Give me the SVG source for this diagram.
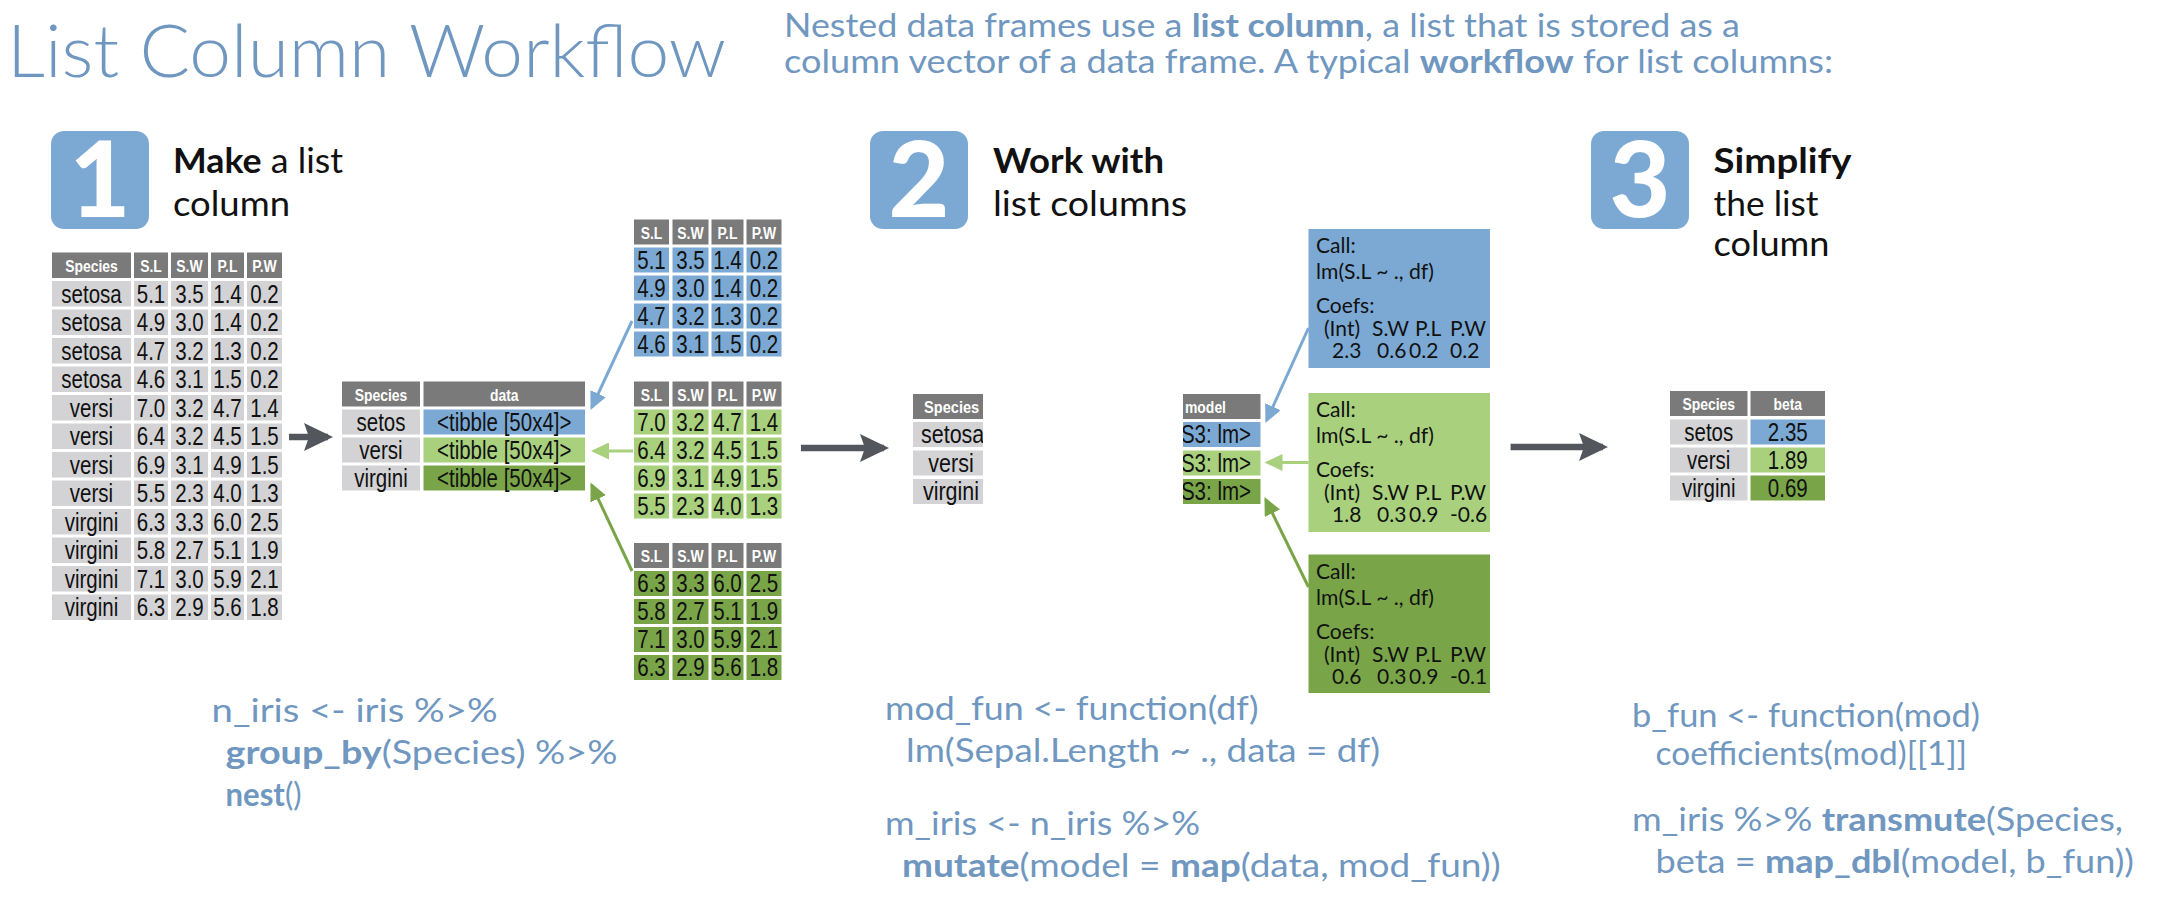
<svg xmlns="http://www.w3.org/2000/svg" xmlns:xlink="http://www.w3.org/1999/xlink" width="2166" height="898" viewBox="0 0 2166 898">
<style>
.hd{fill:#7A7A7A}.cg{fill:#D3D3D5}.cb{fill:#7BA9D3}.cl{fill:#A8D07D}.cd{fill:#79A548}
.th{font-family:"Liberation Sans",Arial,sans-serif;font-weight:bold;font-size:17px;fill:#fff;text-anchor:middle}
.td{font-family:"Liberation Sans",Arial,sans-serif;font-size:25px;fill:#111;text-anchor:middle}
.title{font-family:Lato,"Open Sans","Liberation Sans",sans-serif;font-weight:300;font-size:73px;fill:#7097C0}
.sub{font-family:Lato,"Open Sans","Liberation Sans",sans-serif;font-size:32px;fill:#7097C0}
.code{font-family:Lato,"Open Sans","Liberation Sans",sans-serif;font-size:32px;fill:#7097C0}
.step{font-family:Lato,"Open Sans","Liberation Sans",sans-serif;font-size:34px;fill:#111}
.num{font-family:Lato,"Open Sans","Liberation Sans",sans-serif;font-weight:900;font-size:105px;fill:#fff;text-anchor:middle}
.mt{font-family:Lato,"Open Sans","Liberation Sans",sans-serif;font-size:21px;fill:#111}
.b{font-weight:bold}
.box{fill:#7BA9D3}
.ln{fill:none;stroke-width:3}
.big{fill:none;stroke:#53575D;stroke-width:6.5}
</style>
<defs>
<g id="row5"><rect x="52" width="79" height="25.5"/><rect x="134" width="34" height="25.5"/><rect x="171" width="37" height="25.5"/><rect x="211" width="33" height="25.5"/><rect x="247" width="35" height="25.5"/></g>
<g id="row4"><rect x="634" width="35" height="25"/><rect x="672.5" width="36" height="25"/><rect x="711.5" width="32" height="25"/><rect x="746.5" width="35" height="25"/></g>
<marker id="mb" markerUnits="userSpaceOnUse" markerWidth="18" markerHeight="17" refX="15" refY="8.5" orient="auto" viewBox="0 0 18 17"><path d="M0,0 L18,8.5 L0,17 z" fill="#7BA9D3"/></marker>
<marker id="ml" markerUnits="userSpaceOnUse" markerWidth="18" markerHeight="17" refX="15" refY="8.5" orient="auto" viewBox="0 0 18 17"><path d="M0,0 L18,8.5 L0,17 z" fill="#A8D07D"/></marker>
<marker id="md" markerUnits="userSpaceOnUse" markerWidth="18" markerHeight="17" refX="15" refY="8.5" orient="auto" viewBox="0 0 18 17"><path d="M0,0 L18,8.5 L0,17 z" fill="#79A548"/></marker>
<marker id="mk" markerUnits="userSpaceOnUse" markerWidth="29" markerHeight="28" refX="24" refY="14" orient="auto" viewBox="0 0 29 28"><path d="M0,0 L29,14 L0,28 L5,14 z" fill="#53575D"/></marker>
<clipPath id="clipSp"><rect x="913" y="390" width="70" height="120"/></clipPath>
<clipPath id="clipMd"><rect x="1183" y="390" width="77.5" height="120"/></clipPath>
</defs>
<rect width="2166" height="898" fill="#fff"/>

<g id="title"><text x="7" y="77" class="title" textLength="719" lengthAdjust="spacingAndGlyphs">List Column Workflow</text></g>
<g id="subtitle">
<text x="784" y="37" class="sub" textLength="956" lengthAdjust="spacingAndGlyphs">Nested data frames use a <tspan class="b">list column</tspan>, a list that is stored as a</text>
<text x="784" y="73" class="sub" textLength="1049" lengthAdjust="spacingAndGlyphs">column vector of a data frame. A typical <tspan class="b">workflow</tspan> for list columns:</text>
</g>

<g id="step1">
<rect x="51" y="131" width="98" height="98" rx="13" class="box"/>
<text x="100" y="217" class="num">1</text>
<text x="173" y="173" class="step" textLength="170" lengthAdjust="spacingAndGlyphs"><tspan class="b">Make</tspan> a list</text>
<text x="173" y="216" class="step" textLength="117" lengthAdjust="spacingAndGlyphs">column</text>
</g>
<g id="step2">
<rect x="870" y="131" width="98" height="98" rx="13" class="box"/>
<text x="919" y="217" class="num">2</text>
<text x="993" y="173" class="step b" textLength="171" lengthAdjust="spacingAndGlyphs">Work with</text>
<text x="993" y="216" class="step" textLength="194" lengthAdjust="spacingAndGlyphs">list columns</text>
</g>
<g id="step3">
<rect x="1591" y="131" width="98" height="98" rx="13" class="box"/>
<text x="1640" y="217" class="num">3</text>
<text x="1713.5" y="173" class="step b" textLength="138" lengthAdjust="spacingAndGlyphs">Simplify</text>
<text x="1713.5" y="216" class="step" textLength="105" lengthAdjust="spacingAndGlyphs">the list</text>
<text x="1713.5" y="256" class="step" textLength="116" lengthAdjust="spacingAndGlyphs">column</text>
</g>

<g id="iris-table">
<use href="#row5" y="252.5" class="hd"/>
<use href="#row5" y="281" class="cg"/><use href="#row5" y="309.5" class="cg"/><use href="#row5" y="338" class="cg"/><use href="#row5" y="366.5" class="cg"/>
<use href="#row5" y="395" class="cg"/><use href="#row5" y="423.5" class="cg"/><use href="#row5" y="452" class="cg"/><use href="#row5" y="480.5" class="cg"/>
<use href="#row5" y="509" class="cg"/><use href="#row5" y="537.5" class="cg"/><use href="#row5" y="566" class="cg"/><use href="#row5" y="594.5" class="cg"/>
<g transform="scale(0.82 1)">
<text y="272.5" class="th"><tspan x="111.59">Species</tspan><tspan x="184.15">S.L</tspan><tspan x="231.1">S.W</tspan><tspan x="277.44">P.L</tspan><tspan x="322.56">P.W</tspan></text>
<g class="td">
<text y="303"><tspan x="111.59">setosa</tspan><tspan x="184.15">5.1</tspan><tspan x="231.1">3.5</tspan><tspan x="277.44">1.4</tspan><tspan x="322.56">0.2</tspan></text>
<text y="331.5"><tspan x="111.59">setosa</tspan><tspan x="184.15">4.9</tspan><tspan x="231.1">3.0</tspan><tspan x="277.44">1.4</tspan><tspan x="322.56">0.2</tspan></text>
<text y="360"><tspan x="111.59">setosa</tspan><tspan x="184.15">4.7</tspan><tspan x="231.1">3.2</tspan><tspan x="277.44">1.3</tspan><tspan x="322.56">0.2</tspan></text>
<text y="388.5"><tspan x="111.59">setosa</tspan><tspan x="184.15">4.6</tspan><tspan x="231.1">3.1</tspan><tspan x="277.44">1.5</tspan><tspan x="322.56">0.2</tspan></text>
<text y="417"><tspan x="111.59">versi</tspan><tspan x="184.15">7.0</tspan><tspan x="231.1">3.2</tspan><tspan x="277.44">4.7</tspan><tspan x="322.56">1.4</tspan></text>
<text y="445.5"><tspan x="111.59">versi</tspan><tspan x="184.15">6.4</tspan><tspan x="231.1">3.2</tspan><tspan x="277.44">4.5</tspan><tspan x="322.56">1.5</tspan></text>
<text y="474"><tspan x="111.59">versi</tspan><tspan x="184.15">6.9</tspan><tspan x="231.1">3.1</tspan><tspan x="277.44">4.9</tspan><tspan x="322.56">1.5</tspan></text>
<text y="502.5"><tspan x="111.59">versi</tspan><tspan x="184.15">5.5</tspan><tspan x="231.1">2.3</tspan><tspan x="277.44">4.0</tspan><tspan x="322.56">1.3</tspan></text>
<text y="531"><tspan x="111.59">virgini</tspan><tspan x="184.15">6.3</tspan><tspan x="231.1">3.3</tspan><tspan x="277.44">6.0</tspan><tspan x="322.56">2.5</tspan></text>
<text y="559.5"><tspan x="111.59">virgini</tspan><tspan x="184.15">5.8</tspan><tspan x="231.1">2.7</tspan><tspan x="277.44">5.1</tspan><tspan x="322.56">1.9</tspan></text>
<text y="588"><tspan x="111.59">virgini</tspan><tspan x="184.15">7.1</tspan><tspan x="231.1">3.0</tspan><tspan x="277.44">5.9</tspan><tspan x="322.56">2.1</tspan></text>
<text y="616.5"><tspan x="111.59">virgini</tspan><tspan x="184.15">6.3</tspan><tspan x="231.1">2.9</tspan><tspan x="277.44">5.6</tspan><tspan x="322.56">1.8</tspan></text>
</g>
</g>
</g>

<g id="nested-table">
<rect x="342" y="381.5" width="78" height="25" class="hd"/><rect x="423.5" y="381.5" width="161.5" height="25" class="hd"/>
<rect x="342" y="409.5" width="78" height="25" class="cg"/><rect x="423.5" y="409.5" width="161.5" height="25" class="cb"/>
<rect x="342" y="437.5" width="78" height="25" class="cg"/><rect x="423.5" y="437.5" width="161.5" height="25" class="cl"/>
<rect x="342" y="465.5" width="78" height="25" class="cg"/><rect x="423.5" y="465.5" width="161.5" height="25" class="cd"/>
<g transform="scale(0.82 1)">
<text y="401" class="th"><tspan x="464.63">Species</tspan><tspan x="614.94">data</tspan></text>
<g class="td">
<text y="431"><tspan x="464.63">setos</tspan><tspan x="614.94">&lt;tibble [50x4]&gt;</tspan></text>
<text y="459"><tspan x="464.63">versi</tspan><tspan x="614.94">&lt;tibble [50x4]&gt;</tspan></text>
<text y="487"><tspan x="464.63">virgini</tspan><tspan x="614.94">&lt;tibble [50x4]&gt;</tspan></text>
</g>
</g>
</g>

<g id="sub-setosa">
<use href="#row4" y="219.5" class="hd"/>
<use href="#row4" y="247.5" class="cb"/><use href="#row4" y="275.5" class="cb"/><use href="#row4" y="303.5" class="cb"/><use href="#row4" y="331.5" class="cb"/>
<g transform="scale(0.82 1)">
<text y="239" class="th"><tspan x="794.51">S.L</tspan><tspan x="842.07">S.W</tspan><tspan x="887.2">P.L</tspan><tspan x="931.71">P.W</tspan></text>
<g class="td">
<text y="269"><tspan x="794.51">5.1</tspan><tspan x="842.07">3.5</tspan><tspan x="887.2">1.4</tspan><tspan x="931.71">0.2</tspan></text>
<text y="297"><tspan x="794.51">4.9</tspan><tspan x="842.07">3.0</tspan><tspan x="887.2">1.4</tspan><tspan x="931.71">0.2</tspan></text>
<text y="325"><tspan x="794.51">4.7</tspan><tspan x="842.07">3.2</tspan><tspan x="887.2">1.3</tspan><tspan x="931.71">0.2</tspan></text>
<text y="353"><tspan x="794.51">4.6</tspan><tspan x="842.07">3.1</tspan><tspan x="887.2">1.5</tspan><tspan x="931.71">0.2</tspan></text>
</g>
</g>
</g>

<g id="sub-versi">
<use href="#row4" y="381.5" class="hd"/>
<use href="#row4" y="409.5" class="cl"/><use href="#row4" y="437.5" class="cl"/><use href="#row4" y="465.5" class="cl"/><use href="#row4" y="493.5" class="cl"/>
<g transform="scale(0.82 1)">
<text y="401" class="th"><tspan x="794.51">S.L</tspan><tspan x="842.07">S.W</tspan><tspan x="887.2">P.L</tspan><tspan x="931.71">P.W</tspan></text>
<g class="td">
<text y="431"><tspan x="794.51">7.0</tspan><tspan x="842.07">3.2</tspan><tspan x="887.2">4.7</tspan><tspan x="931.71">1.4</tspan></text>
<text y="459"><tspan x="794.51">6.4</tspan><tspan x="842.07">3.2</tspan><tspan x="887.2">4.5</tspan><tspan x="931.71">1.5</tspan></text>
<text y="487"><tspan x="794.51">6.9</tspan><tspan x="842.07">3.1</tspan><tspan x="887.2">4.9</tspan><tspan x="931.71">1.5</tspan></text>
<text y="515"><tspan x="794.51">5.5</tspan><tspan x="842.07">2.3</tspan><tspan x="887.2">4.0</tspan><tspan x="931.71">1.3</tspan></text>
</g>
</g>
</g>

<g id="sub-virgini">
<use href="#row4" y="543" class="hd"/>
<use href="#row4" y="571" class="cd"/><use href="#row4" y="599" class="cd"/><use href="#row4" y="627" class="cd"/><use href="#row4" y="655" class="cd"/>
<g transform="scale(0.82 1)">
<text y="562.5" class="th"><tspan x="794.51">S.L</tspan><tspan x="842.07">S.W</tspan><tspan x="887.2">P.L</tspan><tspan x="931.71">P.W</tspan></text>
<g class="td">
<text y="592.5"><tspan x="794.51">6.3</tspan><tspan x="842.07">3.3</tspan><tspan x="887.2">6.0</tspan><tspan x="931.71">2.5</tspan></text>
<text y="620.5"><tspan x="794.51">5.8</tspan><tspan x="842.07">2.7</tspan><tspan x="887.2">5.1</tspan><tspan x="931.71">1.9</tspan></text>
<text y="648.5"><tspan x="794.51">7.1</tspan><tspan x="842.07">3.0</tspan><tspan x="887.2">5.9</tspan><tspan x="931.71">2.1</tspan></text>
<text y="676.5"><tspan x="794.51">6.3</tspan><tspan x="842.07">2.9</tspan><tspan x="887.2">5.6</tspan><tspan x="931.71">1.8</tspan></text>
</g>
</g>
</g>

<g id="species-column">
<rect x="913" y="394" width="70" height="25" class="hd"/>
<rect x="913" y="422" width="70" height="25" class="cg"/><rect x="913" y="450.5" width="70" height="25" class="cg"/><rect x="913" y="479" width="70" height="25" class="cg"/>
<g clip-path="url(#clipSp)"><g transform="scale(0.86 1)">
<text x="1074.4" y="413.5" class="th" style="text-anchor:start">Species</text>
<text x="1070.93" y="443.5" class="td" style="text-anchor:start">setosa</text>
<text x="1105.81" y="472" class="td">versi</text>
<text x="1105.81" y="500.5" class="td">virgini</text>
</g></g>
</g>

<g id="model-column">
<rect x="1183" y="394" width="77.5" height="25" class="hd"/>
<rect x="1183" y="422" width="77.5" height="25" class="cb"/><rect x="1183" y="450.5" width="77.5" height="25" class="cl"/><rect x="1183" y="479" width="77.5" height="25" class="cd"/>
<g clip-path="url(#clipMd)"><g transform="scale(0.82 1)">
<text x="1445.1" y="413.5" class="th" style="text-anchor:start">model</text>
<g class="td" style="text-anchor:end">
<text x="1525.6" y="443.5">&lt;S3: lm&gt;</text>
<text x="1525.6" y="472">&lt;S3: lm&gt;</text>
<text x="1525.6" y="500.5">&lt;S3: lm&gt;</text>
</g>
</g></g>
</g>

<g id="model-setosa">
<rect x="1308.5" y="229" width="181.5" height="139" class="cb"/>
<g class="mt">
<text x="1316" y="253">Call:</text>
<text x="1316" y="279" textLength="118" lengthAdjust="spacingAndGlyphs">lm(S.L ~ ., df)</text>
<text x="1316" y="313">Coefs:</text>
<text y="336"><tspan x="1324">(Int)</tspan><tspan x="1372">S.W</tspan><tspan x="1415">P.L</tspan><tspan x="1450">P.W</tspan></text>
<text y="358"><tspan x="1332">2.3</tspan><tspan x="1377">0.6</tspan><tspan x="1409">0.2</tspan><tspan x="1450">0.2</tspan></text>
</g>
</g>
<g id="model-versi">
<rect x="1308.5" y="393" width="181.5" height="139" class="cl"/>
<g class="mt">
<text x="1316" y="417">Call:</text>
<text x="1316" y="443" textLength="118" lengthAdjust="spacingAndGlyphs">lm(S.L ~ ., df)</text>
<text x="1316" y="477">Coefs:</text>
<text y="500"><tspan x="1324">(Int)</tspan><tspan x="1372">S.W</tspan><tspan x="1415">P.L</tspan><tspan x="1450">P.W</tspan></text>
<text y="522"><tspan x="1332">1.8</tspan><tspan x="1377">0.3</tspan><tspan x="1409">0.9</tspan><tspan x="1450">-0.6</tspan></text>
</g>
</g>
<g id="model-virgini">
<rect x="1308.5" y="554.5" width="181.5" height="138.5" class="cd"/>
<g class="mt">
<text x="1316" y="578.5">Call:</text>
<text x="1316" y="604.5" textLength="118" lengthAdjust="spacingAndGlyphs">lm(S.L ~ ., df)</text>
<text x="1316" y="638.5">Coefs:</text>
<text y="661.5"><tspan x="1324">(Int)</tspan><tspan x="1372">S.W</tspan><tspan x="1415">P.L</tspan><tspan x="1450">P.W</tspan></text>
<text y="683.5"><tspan x="1332">0.6</tspan><tspan x="1377">0.3</tspan><tspan x="1409">0.9</tspan><tspan x="1450">-0.1</tspan></text>
</g>
</g>

<g id="result-table">
<rect x="1670" y="391" width="77.5" height="25" class="hd"/><rect x="1750.5" y="391" width="74.5" height="25" class="hd"/>
<rect x="1670" y="419.5" width="77.5" height="25" class="cg"/><rect x="1750.5" y="419.5" width="74.5" height="25" class="cb"/>
<rect x="1670" y="447.5" width="77.5" height="25" class="cg"/><rect x="1750.5" y="447.5" width="74.5" height="25" class="cl"/>
<rect x="1670" y="475.5" width="77.5" height="25" class="cg"/><rect x="1750.5" y="475.5" width="74.5" height="25" class="cd"/>
<g transform="scale(0.82 1)">
<text y="410.5" class="th"><tspan x="2083.84">Species</tspan><tspan x="2180.18">beta</tspan></text>
<g class="td">
<text y="441"><tspan x="2083.84">setos</tspan><tspan x="2180.18">2.35</tspan></text>
<text y="469"><tspan x="2083.84">versi</tspan><tspan x="2180.18">1.89</tspan></text>
<text y="497"><tspan x="2083.84">virgini</tspan><tspan x="2180.18">0.69</tspan></text>
</g>
</g>
</g>

<g id="code1" class="code">
<text x="211.6" y="722" textLength="286" lengthAdjust="spacingAndGlyphs">n_iris &lt;- iris %&gt;%</text>
<text x="225.5" y="764" textLength="392" lengthAdjust="spacingAndGlyphs"><tspan class="b">group_by</tspan>(Species) %&gt;%</text>
<text x="225.5" y="806" textLength="76" lengthAdjust="spacingAndGlyphs"><tspan class="b">nest</tspan>()</text>
</g>
<g id="code2" class="code">
<text x="885" y="720" textLength="373.6" lengthAdjust="spacingAndGlyphs">mod_fun &lt;- function(df)</text>
<text x="906" y="762" textLength="474" lengthAdjust="spacingAndGlyphs">lm(Sepal.Length ~ ., data = df)</text>
<text x="885" y="835" textLength="315" lengthAdjust="spacingAndGlyphs">m_iris &lt;- n_iris %&gt;%</text>
<text x="902" y="877" textLength="598.6" lengthAdjust="spacingAndGlyphs"><tspan class="b">mutate</tspan>(model = <tspan class="b">map</tspan>(data, mod_fun))</text>
</g>
<g id="code3" class="code">
<text x="1632" y="727" textLength="348" lengthAdjust="spacingAndGlyphs">b_fun &lt;- function(mod)</text>
<text x="1655.5" y="765" textLength="311.5" lengthAdjust="spacingAndGlyphs">coefficients(mod)[[1]]</text>
<text x="1632" y="831" textLength="491" lengthAdjust="spacingAndGlyphs">m_iris %&gt;% <tspan class="b">transmute</tspan>(Species,</text>
<text x="1655.5" y="873" textLength="478.5" lengthAdjust="spacingAndGlyphs">beta = <tspan class="b">map_dbl</tspan>(model, b_fun))</text>
</g>

<g id="connectors">
<line x1="289" y1="437" x2="328" y2="437" class="big" marker-end="url(#mk)"/>
<line x1="801" y1="448" x2="884" y2="448" class="big" marker-end="url(#mk)"/>
<line x1="1510.6" y1="447" x2="1603" y2="447" class="big" marker-end="url(#mk)"/>
<line x1="632" y1="321" x2="591.8" y2="407.3" class="ln" stroke="#7BA9D3" marker-end="url(#mb)"/>
<line x1="633" y1="451" x2="594" y2="451" class="ln" stroke="#A8D07D" marker-end="url(#ml)"/>
<line x1="632" y1="571" x2="591.8" y2="485.2" class="ln" stroke="#79A548" marker-end="url(#md)"/>
<line x1="1308.5" y1="328" x2="1266.7" y2="420.3" class="ln" stroke="#7BA9D3" marker-end="url(#mb)"/>
<line x1="1308.5" y1="462.5" x2="1267.5" y2="462.5" class="ln" stroke="#A8D07D" marker-end="url(#ml)"/>
<line x1="1308.5" y1="587" x2="1265.8" y2="499.7" class="ln" stroke="#79A548" marker-end="url(#md)"/>
</g>
</svg>
